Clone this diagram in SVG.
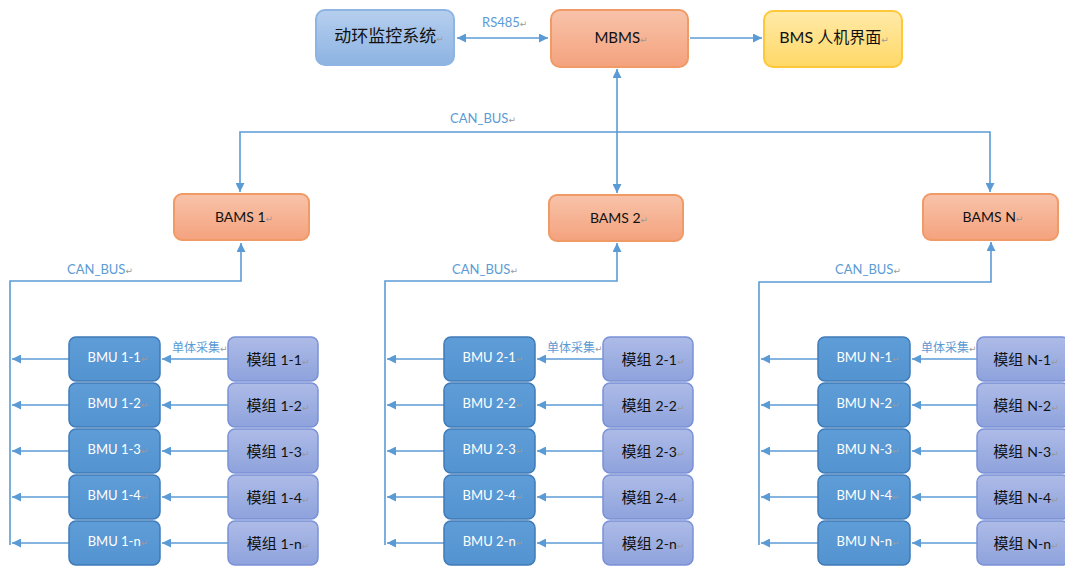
<svg xmlns="http://www.w3.org/2000/svg" width="1065" height="567" viewBox="0 0 1065 567">
<defs>
<linearGradient id="gBlue" x1="0" y1="0" x2="0" y2="1"><stop offset="0" stop-color="#b6cfee"/><stop offset="1" stop-color="#8db3e2"/></linearGradient>
<linearGradient id="gOrange" x1="0" y1="0" x2="0" y2="1"><stop offset="0" stop-color="#f8c3aa"/><stop offset="1" stop-color="#f4a27d"/></linearGradient>
<linearGradient id="gYellow" x1="0" y1="0" x2="0" y2="1"><stop offset="0" stop-color="#ffeaa9"/><stop offset="1" stop-color="#ffd866"/></linearGradient>
<linearGradient id="gBmu" x1="0" y1="0" x2="0" y2="1"><stop offset="0" stop-color="#5e9dd7"/><stop offset="1" stop-color="#5393d0"/></linearGradient>
<linearGradient id="gMod" x1="0" y1="0" x2="0" y2="1"><stop offset="0" stop-color="#adbbe7"/><stop offset="1" stop-color="#8ea2dc"/></linearGradient>
<marker id="arr" viewBox="0 0 10 10" refX="10" refY="5" markerWidth="9" markerHeight="9" markerUnits="userSpaceOnUse" orient="auto-start-reverse"><path d="M0,0 L10,5 L0,10 z" fill="#5b9bd5"/></marker>
</defs>
<style>
text{font-family:Lato,"Noto Sans CJK SC",sans-serif;}
.pm{font-family:"DejaVu Sans",sans-serif;fill:#9a9a9a;font-size:9px;}
.blue{fill:url(#gBlue);stroke:#8eb4e3;stroke-width:2;}
.orange{fill:url(#gOrange);stroke:#f09a66;stroke-width:2;}
.yellow{fill:url(#gYellow);stroke:#ffc83a;stroke-width:2;}
.bmu{fill:url(#gBmu);stroke:#3f7bb8;stroke-width:1.5;}
.mod{fill:url(#gMod);stroke:#7b91d6;stroke-width:1.5;}
.t{fill:#111;text-anchor:middle;}
.tw{fill:#fff;text-anchor:middle;font-size:13px;}
.tm{fill:#111;text-anchor:middle;font-size:15px;}
.lbl{fill:#5b9bd5;font-size:13px;}
.lblc{fill:#5b9bd5;font-size:12px;}
.c{fill:none;stroke:#5b9bd5;stroke-width:1.6;}
</style>

<g id="connectors">
<line class="c" x1="457" y1="38" x2="548" y2="38" marker-start="url(#arr)" marker-end="url(#arr)"/>
<line class="c" x1="690" y1="38" x2="762" y2="38" marker-end="url(#arr)"/>
<line class="c" x1="617" y1="69" x2="617" y2="193" marker-start="url(#arr)" marker-end="url(#arr)"/>
<path class="c" d="M240,192 V132 H990 V192" marker-start="url(#arr)" marker-end="url(#arr)"/>
<!-- group 1 -->
<path class="c" d="M241,243 V281 H10 V545" marker-start="url(#arr)"/>
<line class="c" x1="69" y1="359" x2="12" y2="359" marker-end="url(#arr)"/>
<line class="c" x1="69" y1="405" x2="12" y2="405" marker-end="url(#arr)"/>
<line class="c" x1="69" y1="451" x2="12" y2="451" marker-end="url(#arr)"/>
<line class="c" x1="69" y1="497" x2="12" y2="497" marker-end="url(#arr)"/>
<line class="c" x1="69" y1="543" x2="12" y2="543" marker-end="url(#arr)"/>
<line class="c" x1="228" y1="359" x2="162" y2="359" marker-end="url(#arr)"/>
<line class="c" x1="228" y1="405" x2="162" y2="405" marker-end="url(#arr)"/>
<line class="c" x1="228" y1="451" x2="162" y2="451" marker-end="url(#arr)"/>
<line class="c" x1="228" y1="497" x2="162" y2="497" marker-end="url(#arr)"/>
<line class="c" x1="228" y1="543" x2="162" y2="543" marker-end="url(#arr)"/>
<!-- group 2 -->
<path class="c" d="M617,243 V281 H385 V545" marker-start="url(#arr)"/>
<line class="c" x1="444" y1="359" x2="387" y2="359" marker-end="url(#arr)"/>
<line class="c" x1="444" y1="405" x2="387" y2="405" marker-end="url(#arr)"/>
<line class="c" x1="444" y1="451" x2="387" y2="451" marker-end="url(#arr)"/>
<line class="c" x1="444" y1="497" x2="387" y2="497" marker-end="url(#arr)"/>
<line class="c" x1="444" y1="543" x2="387" y2="543" marker-end="url(#arr)"/>
<line class="c" x1="603" y1="359" x2="537" y2="359" marker-end="url(#arr)"/>
<line class="c" x1="603" y1="405" x2="537" y2="405" marker-end="url(#arr)"/>
<line class="c" x1="603" y1="451" x2="537" y2="451" marker-end="url(#arr)"/>
<line class="c" x1="603" y1="497" x2="537" y2="497" marker-end="url(#arr)"/>
<line class="c" x1="603" y1="543" x2="537" y2="543" marker-end="url(#arr)"/>
<!-- group N -->
<path class="c" d="M991,242 V282 H759 V545" marker-start="url(#arr)"/>
<line class="c" x1="818" y1="359" x2="761" y2="359" marker-end="url(#arr)"/>
<line class="c" x1="818" y1="405" x2="761" y2="405" marker-end="url(#arr)"/>
<line class="c" x1="818" y1="451" x2="761" y2="451" marker-end="url(#arr)"/>
<line class="c" x1="818" y1="497" x2="761" y2="497" marker-end="url(#arr)"/>
<line class="c" x1="818" y1="543" x2="761" y2="543" marker-end="url(#arr)"/>
<line class="c" x1="977" y1="359" x2="912" y2="359" marker-end="url(#arr)"/>
<line class="c" x1="977" y1="405" x2="912" y2="405" marker-end="url(#arr)"/>
<line class="c" x1="977" y1="451" x2="912" y2="451" marker-end="url(#arr)"/>
<line class="c" x1="977" y1="497" x2="912" y2="497" marker-end="url(#arr)"/>
<line class="c" x1="977" y1="543" x2="912" y2="543" marker-end="url(#arr)"/>
<!-- labels -->
<text class="lbl" x="482" y="27">RS485<tspan class="pm">↵</tspan></text>
<text class="lbl" x="450" y="123">CAN_BUS<tspan class="pm">↵</tspan></text>
<text class="lbl" x="67" y="274">CAN_BUS<tspan class="pm">↵</tspan></text>
<text class="lbl" x="452" y="274">CAN_BUS<tspan class="pm">↵</tspan></text>
<text class="lbl" x="835" y="274">CAN_BUS<tspan class="pm">↵</tspan></text>
<text class="lblc" x="172" y="352">单体采集<tspan class="pm" font-size="6">↵</tspan></text>
<text class="lblc" x="547" y="352">单体采集<tspan class="pm" font-size="6">↵</tspan></text>
<text class="lblc" x="921" y="352">单体采集<tspan class="pm" font-size="6">↵</tspan></text>
</g>

<g id="dhjk"><rect class="blue" x="316" y="10" width="138" height="55" rx="9"/><text class="t" x="389" y="42" font-size="17">动环监控系统<tspan class="pm">↵</tspan></text></g>
<g id="mbms"><rect class="orange" x="551" y="10" width="137" height="57" rx="9"/><text class="t" x="621" y="43" font-size="15">MBMS<tspan class="pm">↵</tspan></text></g>
<g id="bmsui"><rect class="yellow" x="764" y="11" width="138" height="56" rx="9"/><text class="t" x="834" y="43" font-size="16">BMS 人机界面<tspan class="pm">↵</tspan></text></g>

<g id="bams1"><rect class="orange" x="174" y="194" width="135" height="46" rx="8"/><text class="t" x="244" y="222" font-size="14">BAMS 1<tspan class="pm">↵</tspan></text></g>
<g id="bams2"><rect class="orange" x="549" y="195" width="134" height="46" rx="8"/><text class="t" x="619" y="223" font-size="14">BAMS 2<tspan class="pm">↵</tspan></text></g>
<g id="bamsN"><rect class="orange" x="923" y="194" width="135" height="46" rx="8"/><text class="t" x="993" y="222" font-size="14">BAMS N<tspan class="pm">↵</tspan></text></g>

<!-- group 1 -->
<g id="bmu1-1"><rect class="bmu" x="69" y="337" width="91" height="44" rx="7"/><text class="tw" x="118" y="362">BMU 1-1<tspan class="pm">↵</tspan></text></g>
<g id="bmu1-2"><rect class="bmu" x="69" y="383" width="91" height="44" rx="7"/><text class="tw" x="118" y="408">BMU 1-2<tspan class="pm">↵</tspan></text></g>
<g id="bmu1-3"><rect class="bmu" x="69" y="429" width="91" height="44" rx="7"/><text class="tw" x="118" y="454">BMU 1-3<tspan class="pm">↵</tspan></text></g>
<g id="bmu1-4"><rect class="bmu" x="69" y="475" width="91" height="44" rx="7"/><text class="tw" x="118" y="500">BMU 1-4<tspan class="pm">↵</tspan></text></g>
<g id="bmu1-n"><rect class="bmu" x="69" y="521" width="91" height="44" rx="7"/><text class="tw" x="118" y="546">BMU 1-n<tspan class="pm">↵</tspan></text></g>
<g id="mod1-1"><rect class="mod" x="228" y="337" width="90" height="44" rx="7"/><text class="tm" x="278" y="365">模组 <tspan font-size="14">1-1</tspan><tspan class="pm">↵</tspan></text></g>
<g id="mod1-2"><rect class="mod" x="228" y="383" width="90" height="44" rx="7"/><text class="tm" x="278" y="411">模组 <tspan font-size="14">1-2</tspan><tspan class="pm">↵</tspan></text></g>
<g id="mod1-3"><rect class="mod" x="228" y="429" width="90" height="44" rx="7"/><text class="tm" x="278" y="457">模组 <tspan font-size="14">1-3</tspan><tspan class="pm">↵</tspan></text></g>
<g id="mod1-4"><rect class="mod" x="228" y="475" width="90" height="44" rx="7"/><text class="tm" x="278" y="503">模组 <tspan font-size="14">1-4</tspan><tspan class="pm">↵</tspan></text></g>
<g id="mod1-n"><rect class="mod" x="228" y="521" width="90" height="44" rx="7"/><text class="tm" x="278" y="549">模组 <tspan font-size="14">1-n</tspan><tspan class="pm">↵</tspan></text></g>

<!-- group 2 -->
<g id="bmu2-1"><rect class="bmu" x="444" y="337" width="91" height="44" rx="7"/><text class="tw" x="493" y="362">BMU 2-1<tspan class="pm">↵</tspan></text></g>
<g id="bmu2-2"><rect class="bmu" x="444" y="383" width="91" height="44" rx="7"/><text class="tw" x="493" y="408">BMU 2-2<tspan class="pm">↵</tspan></text></g>
<g id="bmu2-3"><rect class="bmu" x="444" y="429" width="91" height="44" rx="7"/><text class="tw" x="493" y="454">BMU 2-3<tspan class="pm">↵</tspan></text></g>
<g id="bmu2-4"><rect class="bmu" x="444" y="475" width="91" height="44" rx="7"/><text class="tw" x="493" y="500">BMU 2-4<tspan class="pm">↵</tspan></text></g>
<g id="bmu2-n"><rect class="bmu" x="444" y="521" width="91" height="44" rx="7"/><text class="tw" x="493" y="546">BMU 2-n<tspan class="pm">↵</tspan></text></g>
<g id="mod2-1"><rect class="mod" x="603" y="337" width="90" height="44" rx="7"/><text class="tm" x="653" y="365">模组 <tspan font-size="14">2-1</tspan><tspan class="pm">↵</tspan></text></g>
<g id="mod2-2"><rect class="mod" x="603" y="383" width="90" height="44" rx="7"/><text class="tm" x="653" y="411">模组 <tspan font-size="14">2-2</tspan><tspan class="pm">↵</tspan></text></g>
<g id="mod2-3"><rect class="mod" x="603" y="429" width="90" height="44" rx="7"/><text class="tm" x="653" y="457">模组 <tspan font-size="14">2-3</tspan><tspan class="pm">↵</tspan></text></g>
<g id="mod2-4"><rect class="mod" x="603" y="475" width="90" height="44" rx="7"/><text class="tm" x="653" y="503">模组 <tspan font-size="14">2-4</tspan><tspan class="pm">↵</tspan></text></g>
<g id="mod2-n"><rect class="mod" x="603" y="521" width="90" height="44" rx="7"/><text class="tm" x="653" y="549">模组 <tspan font-size="14">2-n</tspan><tspan class="pm">↵</tspan></text></g>

<!-- group N -->
<g id="bmuN-1"><rect class="bmu" x="818" y="337" width="92" height="44" rx="7"/><text class="tw" x="868" y="362">BMU N-1<tspan class="pm">↵</tspan></text></g>
<g id="bmuN-2"><rect class="bmu" x="818" y="383" width="92" height="44" rx="7"/><text class="tw" x="868" y="408">BMU N-2<tspan class="pm">↵</tspan></text></g>
<g id="bmuN-3"><rect class="bmu" x="818" y="429" width="92" height="44" rx="7"/><text class="tw" x="868" y="454">BMU N-3<tspan class="pm">↵</tspan></text></g>
<g id="bmuN-4"><rect class="bmu" x="818" y="475" width="92" height="44" rx="7"/><text class="tw" x="868" y="500">BMU N-4<tspan class="pm">↵</tspan></text></g>
<g id="bmuN-n"><rect class="bmu" x="818" y="521" width="92" height="44" rx="7"/><text class="tw" x="868" y="546">BMU N-n<tspan class="pm">↵</tspan></text></g>
<g id="modN-1"><rect class="mod" x="977" y="337" width="92" height="44" rx="7"/><text class="tm" x="1026" y="365">模组 <tspan font-size="14">N-1</tspan><tspan class="pm">↵</tspan></text></g>
<g id="modN-2"><rect class="mod" x="977" y="383" width="92" height="44" rx="7"/><text class="tm" x="1026" y="411">模组 <tspan font-size="14">N-2</tspan><tspan class="pm">↵</tspan></text></g>
<g id="modN-3"><rect class="mod" x="977" y="429" width="92" height="44" rx="7"/><text class="tm" x="1026" y="457">模组 <tspan font-size="14">N-3</tspan><tspan class="pm">↵</tspan></text></g>
<g id="modN-4"><rect class="mod" x="977" y="475" width="92" height="44" rx="7"/><text class="tm" x="1026" y="503">模组 <tspan font-size="14">N-4</tspan><tspan class="pm">↵</tspan></text></g>
<g id="modN-n"><rect class="mod" x="977" y="521" width="92" height="44" rx="7"/><text class="tm" x="1026" y="549">模组 <tspan font-size="14">N-n</tspan><tspan class="pm">↵</tspan></text></g>
</svg>
